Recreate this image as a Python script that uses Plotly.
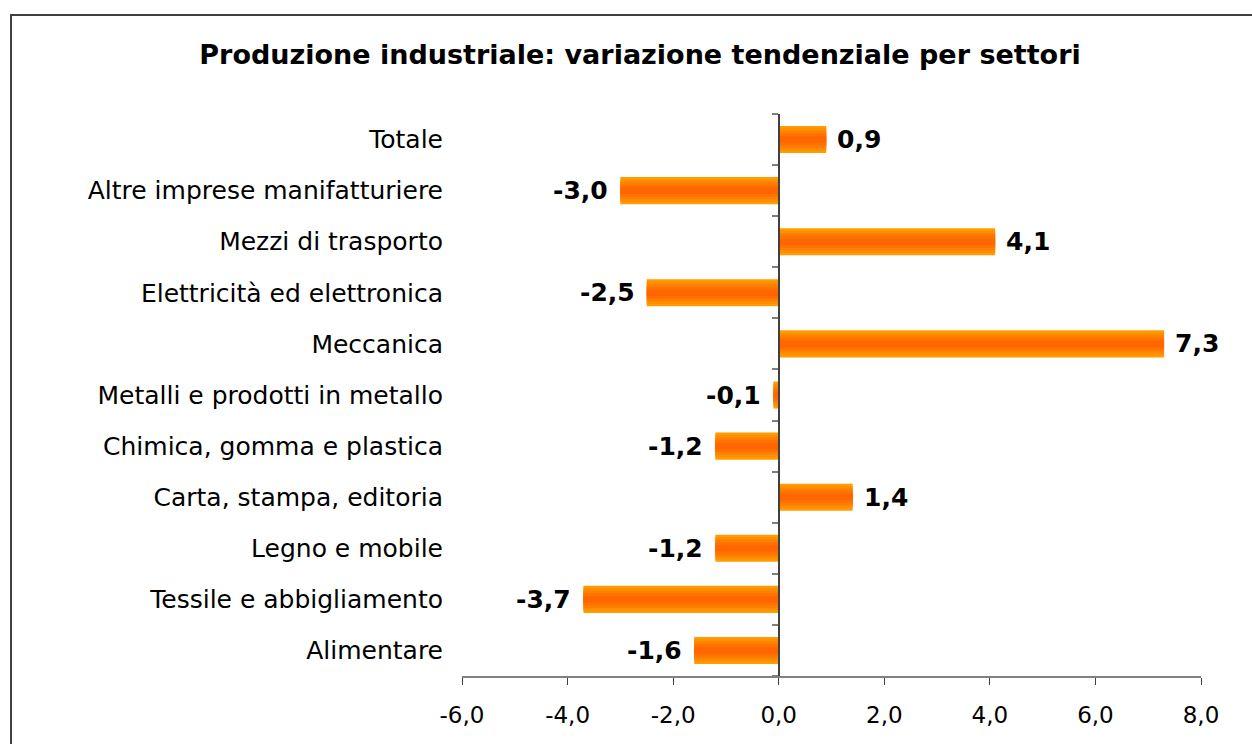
import plotly.graph_objects as go

# Data (listed bottom to top)
categories = [
    "Alimentare",
    "Tessile e abbigliamento",
    "Legno e mobile",
    "Carta, stampa, editoria",
    "Chimica, gomma e plastica",
    "Metalli e prodotti in metallo",
    "Meccanica",
    "Elettricità ed elettronica",
    "Mezzi di trasporto",
    "Altre imprese manifatturiere",
    "Totale",
]
values = [-1.6, -3.7, -1.2, 1.4, -1.2, -0.1, 7.3, -2.5, 4.1, -3.0, 0.9]
x_tickvals = [-6, -4, -2, 0, 2, 4, 6, 8]
x_ticktext = ["-6,0", "-4,0", "-2,0", "0,0", "2,0", "4,0", "6,0", "8,0"]

FONT = "DejaVu Sans"
W, H = 1252, 744
L, R, T, B = 462, 51, 114, 68
plot_w = W - L - R
plot_h = H - T - B

fig = go.Figure()

# gradient simulated by overlaid bars of decreasing thickness
layers = [(0.53, "#FF9C00"), (0.44, "#FF8E00"), (0.34, "#FF8000"), (0.24, "#FF7200"), (0.13, "#FF6600")]
for wdt, col in layers:
    fig.add_trace(go.Bar(
        x=values, y=categories, orientation="h", width=wdt,
        marker=dict(color=col, line=dict(width=0)),
        hoverinfo="skip", showlegend=False,
    ))

# invisible trace for label axis
fig.add_trace(go.Scatter(x=[0] * len(categories), y=categories, yaxis="y2",
                         mode="markers", marker=dict(opacity=0), showlegend=False,
                         hoverinfo="skip"))

labels = [f"{v:.1f}".replace(".", ",") for v in values]
for v, c, t in zip(values, categories, labels):
    fig.add_annotation(
        x=v, y=c, xref="x", yref="y", text=t, showarrow=False,
        xanchor="left" if v >= 0 else "right",
        xshift=9 if v >= 0 else -10,
        font=dict(family=FONT, size=25, color="#000000", weight="bold"),
    )

# chart border
fig.add_shape(type="rect", xref="paper", yref="paper",
              x0=(11 - L) / plot_w, x1=(1262 - L) / plot_w,
              y0=-(760 - (H - B)) / plot_h, y1=1 + (T - 15) / plot_h,
              line=dict(color="#404040", width=2), fillcolor="rgba(0,0,0,0)", layer="below")

fig.update_layout(
    width=W, height=H,
    margin=dict(l=L, r=R, t=T, b=B),
    paper_bgcolor="white", plot_bgcolor="white",
    barmode="overlay",
    title=dict(text="<b>Produzione industriale: variazione tendenziale per settori</b>",
               x=640 / W, xanchor="center", xref="container",
               y=1 - 55 / H, yanchor="middle", yref="container",
               font=dict(family=FONT, size=27, color="#000000")),
    xaxis=dict(range=[-6, 8], tickvals=x_tickvals, ticktext=x_ticktext,
               showgrid=False, zeroline=False, showline=True, linecolor="#808080",
               linewidth=2, ticks="outside", ticklen=7, tickcolor="#404040", tickwidth=1,
               ticklabelstandoff=10,
               tickfont=dict(family=FONT, size=23, color="#000000"),
               domain=[0, 1], anchor="y", fixedrange=True),
    yaxis=dict(type="category", categoryorder="array", categoryarray=categories,
               range=[-0.5, len(categories) - 0.5],
               anchor="free", position=6 / 14, showticklabels=False,
               showgrid=False, zeroline=False, showline=True, linecolor="#404040",
               linewidth=2, ticks="outside", tickson="boundaries", ticklen=6,
               tickcolor="#808080", tickwidth=2),
    yaxis2=dict(type="category", categoryorder="array", categoryarray=categories,
                overlaying="y", matches="y", side="left", anchor="x",
                showgrid=False, zeroline=False, showline=False, ticks="",
                ticklabelstandoff=18,
                tickfont=dict(family=FONT, size=25, color="#000000")),
    showlegend=False,
)

fig.write_html("out.html")
